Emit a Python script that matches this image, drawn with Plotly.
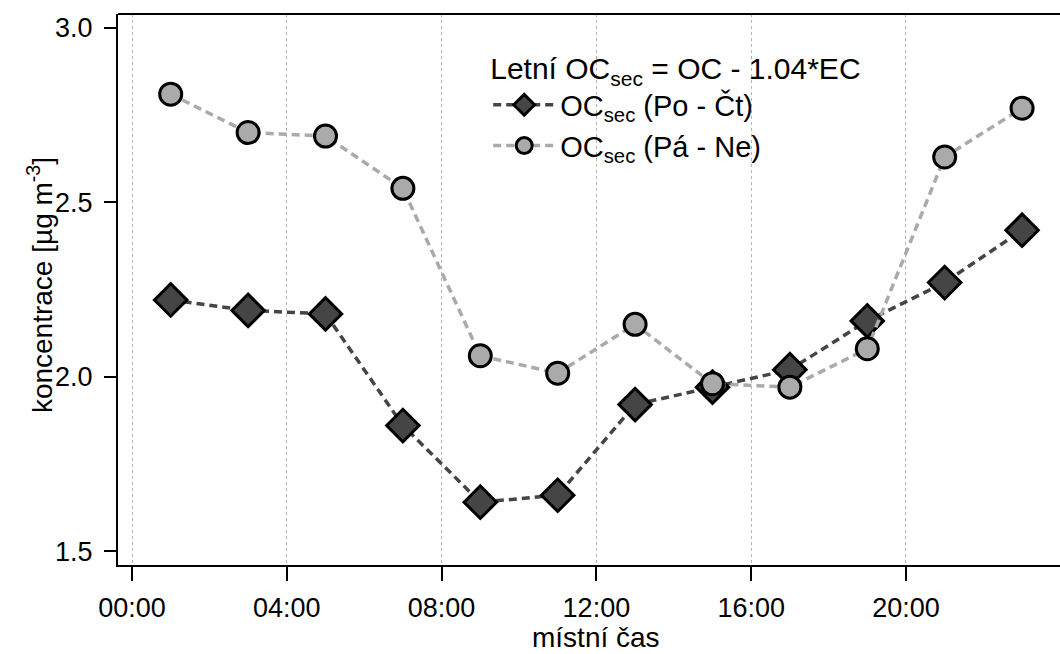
import plotly.graph_objects as go

hours = [1, 3, 5, 7, 9, 11, 13, 15, 17, 19, 21, 23]
oc_weekday = [2.22, 2.19, 2.18, 1.86, 1.64, 1.66, 1.92, 1.97, 2.02, 2.16, 2.27, 2.42]
oc_weekend = [2.81, 2.70, 2.69, 2.54, 2.06, 2.01, 2.15, 1.98, 1.97, 2.08, 2.63, 2.77]
tick_vals = [0, 4, 8, 12, 16, 20]
tick_text = ["00:00", "04:00", "08:00", "12:00", "16:00", "20:00"]

FONT = "Liberation Sans, Arial, sans-serif"

fig = go.Figure()
fig.add_trace(go.Scatter(
    x=hours, y=oc_weekday, mode="lines+markers",
    name="OC<sub>sec</sub> (Po - Čt)",
    line=dict(color="#454545", width=3.5, dash="8px,5px"),
    marker=dict(symbol="diamond", size=25, color="#454545",
                line=dict(color="black", width=3)),
))
fig.add_trace(go.Scatter(
    x=hours, y=oc_weekend, mode="lines+markers",
    name="OC<sub>sec</sub> (Pá - Ne)",
    line=dict(color="#aaaaaa", width=3.5, dash="8px,5px"),
    marker=dict(symbol="circle", size=22, color="#aaaaaa",
                line=dict(color="black", width=3)),
))

fig.update_layout(
    width=1060, height=654,
    margin=dict(l=118, r=0, t=14, b=89),
    paper_bgcolor="white", plot_bgcolor="white",
    font=dict(family=FONT, color="black", size=26),
    showlegend=True,
    legend=dict(
        x=0.393, y=0.952, xanchor="left", yanchor="top",
        bgcolor="rgba(0,0,0,0)",
        font=dict(size=29, family=FONT),
        title=dict(text="Letní OC<sub>sec</sub> = OC - 1.04*EC", font=dict(size=30, family=FONT)),
        itemwidth=62,
        tracegroupgap=0,
    ),
    xaxis=dict(
        range=[-0.362, 23.98],
        tickvals=tick_vals, ticktext=tick_text,
        showgrid=True, gridcolor="#b4b4b4", griddash="dot", gridwidth=1,
        showline=True, linecolor="black", linewidth=2,
        ticks="outside", ticklen=14, tickwidth=2, tickcolor="black",
        tickfont=dict(size=27), zeroline=False, ticklabelstandoff=4,
    ),
    yaxis=dict(
        range=[1.460, 3.040],
        tickvals=[1.5, 2.0, 2.5, 3.0], ticktext=["1.5", "2.0", "2.5", "3.0"],
        showgrid=False,
        showline=True, linecolor="black", linewidth=2,
        ticks="outside", ticklen=12, tickwidth=2, tickcolor="black",
        tickfont=dict(size=27), zeroline=False, ticklabelstandoff=6,
    ),
    shapes=[dict(type="line", xref="paper", yref="paper", x0=0, x1=1, y0=1, y1=1,
                 line=dict(color="black", width=2))],
    annotations=[
        dict(text="místní čas", xref="x", yref="paper", x=12, y=0,
             yshift=-55, yanchor="top", showarrow=False,
             font=dict(size=28, family=FONT)),
        dict(text="koncentrace [µg m<sup>-3</sup>]", xref="paper", yref="paper",
             x=-0.0828, y=0.508, xanchor="center", yanchor="middle",
             textangle=-90, showarrow=False,
             font=dict(size=28, family=FONT)),
    ],
)

fig.write_html("out.html")
